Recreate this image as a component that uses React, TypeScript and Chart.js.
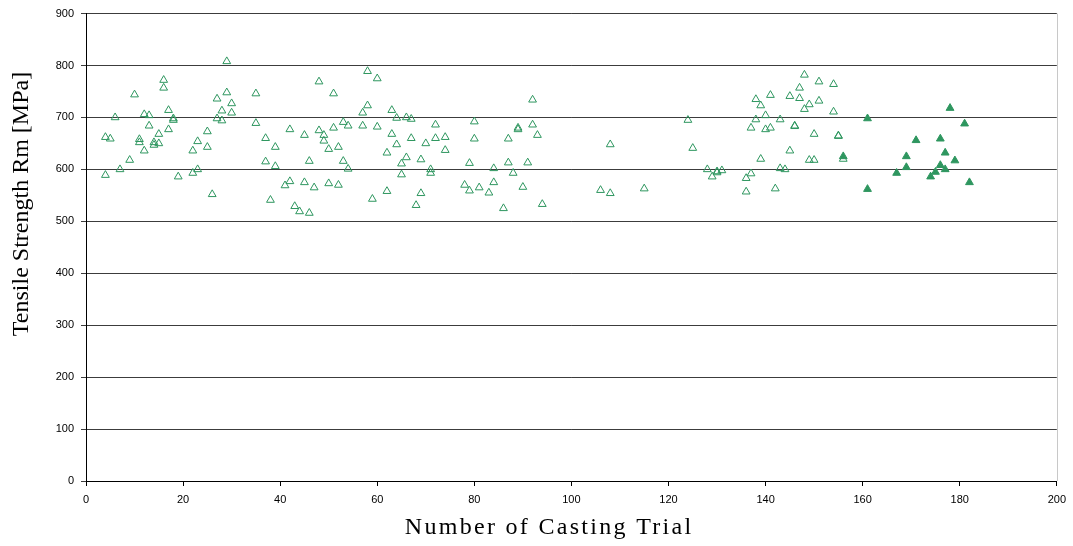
import React, { useEffect, useRef } from "react";
import { Chart, registerables } from "chart.js";

Chart.register(...registerables);

// Open triangles: casting trials (x = trial number, y = Rm in MPa)
const openTrials: number[] = [
  29, 16, 16, 10, 29, 35, 27, 30, 17, 28, 30, 12, 13, 6, 18, 18, 27, 28, 35, 13, 17, 25, 15, 4, 5, 23, 11, 11, 14, 14, 15, 37, 39, 25, 12, 22, 9, 37, 39, 7, 23, 4, 19, 22, 26, 38,
  58, 60, 48, 51, 58, 57, 63, 64, 66, 67, 53, 54, 51, 57, 60, 72, 42, 48, 49, 45, 63, 67, 72, 74, 49, 64, 70, 50, 52, 74, 62, 66, 69, 46, 53, 65, 79, 54, 71, 71, 65, 42, 41, 45, 47, 50, 52, 62, 69, 78, 79, 59, 68, 43, 44, 46,
  92, 80, 89, 89, 92, 93, 80, 87, 108, 87, 91, 84, 88, 81, 84, 83, 90, 86, 94, 106, 108, 115,
  124, 125, 128, 129, 130, 130, 131, 136, 137, 136, 142, 139, 143, 144, 145, 149, 150, 137, 140, 141, 138, 140, 143, 138, 139, 141, 145, 147, 147, 148, 151, 154, 149, 148, 151, 154, 146, 146, 150, 155, 155, 156,
];
const openStrength: number[] = [
  808, 772, 757, 744, 748, 746, 736, 727, 714, 713, 709, 706, 704, 700, 698, 695, 698, 694, 689, 684, 677, 673, 668, 662, 659, 654, 658, 652, 652, 647, 650, 660, 643, 643, 636, 636, 618, 615, 606, 600, 600, 589, 586, 593, 552, 541,
  789, 775, 769, 746, 723, 709, 714, 699, 700, 697, 691, 684, 680, 684, 682, 686, 677, 675, 666, 666, 668, 660, 660, 662, 655, 648, 650, 639, 643, 637, 632, 623, 619, 616, 616, 611, 612, 601, 600, 593, 590, 577, 569, 575, 565, 573, 570, 558, 554, 570, 559, 543, 531, 529, 519, 516,
  734, 692, 680, 677, 686, 666, 659, 659, 648, 613, 613, 602, 593, 565, 575, 555, 566, 525, 533, 560, 554, 563,
  695, 641, 600, 586, 596, 594, 598, 583, 592, 557, 563, 620, 602, 600, 636, 618, 618, 680, 677, 680, 696, 704, 696, 735, 723, 743, 741, 737, 757, 782, 769, 764, 725, 716, 732, 711, 684, 683, 668, 665, 664, 620,
];

// Filled triangles
const filledTrials: number[] = [156, 161, 161, 167, 169, 169, 171, 174, 175, 176, 176, 177, 177, 178, 179, 181, 182];
const filledStrength: number[] = [625, 698, 562, 593, 625, 604, 656, 586, 595, 659, 608, 632, 600, 718, 617, 688, 575];

const xTicks: number[] = [0, 20, 40, 60, 80, 100, 120, 140, 160, 180, 200];
const yTicks: number[] = [0, 100, 200, 300, 400, 500, 600, 700, 800, 900];

const xTitle = "Number of Casting Trial";
const yTitle = "Tensile Strength Rm [MPa]";

const GREEN = "rgb(46,150,95)";

export default function App() {
  const ref = useRef<HTMLCanvasElement | null>(null);

  useEffect(() => {
    if (!ref.current) return;
    const openData = openTrials.map((x, i) => ({ x, y: openStrength[i] }));
    const filledData = filledTrials.map((x, i) => ({ x, y: filledStrength[i] }));

    const titlePlugin = {
      id: "titles",
      afterDraw(chart: any) {
        const ctx = chart.ctx as CanvasRenderingContext2D;
        const area = chart.chartArea;
        ctx.save();
        // right border
        ctx.strokeStyle = "#c8c8c8";
        ctx.lineWidth = 1;
        ctx.beginPath();
        ctx.moveTo(Math.round(area.right) + 0.5, area.top);
        ctx.lineTo(Math.round(area.right) + 0.5, area.bottom);
        ctx.stroke();

        ctx.fillStyle = "#000";
        ctx.font = "24px 'Liberation Serif', 'Times New Roman', serif";
        ctx.textAlign = "center";
        ctx.textBaseline = "middle";
        // y title
        ctx.save();
        ctx.translate(22, 204);
        ctx.rotate(-Math.PI / 2);
        ctx.fillText(yTitle, 0, 0);
        ctx.restore();
        // x title with letter spacing
        const ls = 2.3;
        (ctx as any).letterSpacing = ls + "px";
        ctx.fillText(xTitle, 548 + ls / 2, 528);
        (ctx as any).letterSpacing = "0px";
        ctx.restore();
      },
    };

    const chart = new Chart(ref.current, {
      type: "scatter",
      data: {
        datasets: [
          {
            label: "open",
            data: openData,
            pointStyle: "triangle",
            pointRadius: 4.5,
            pointBorderWidth: 1,
            pointBorderColor: GREEN,
            pointBackgroundColor: "rgba(255,255,255,0)",
            showLine: false,
          },
          {
            label: "filled",
            data: filledData,
            pointStyle: "triangle",
            pointRadius: 4.5,
            pointBorderWidth: 1,
            pointBorderColor: GREEN,
            pointBackgroundColor: GREEN,
            showLine: false,
          },
        ],
      },
      options: {
        animation: false,
        responsive: false,
        maintainAspectRatio: false,
        layout: { padding: { top: 12, right: 16, left: 0, bottom: 0 } },
        plugins: { legend: { display: false }, tooltip: { enabled: false }, title: { display: false } },
        scales: {
          x: {
            type: "linear",
            min: 0,
            max: 200,
            afterBuildTicks: (scale: any) => {
              scale.ticks = xTicks.map((v) => ({ value: v }));
            },
            afterFit: (scale: any) => {
              scale.height = 65;
            },
            grid: { drawOnChartArea: false, drawTicks: true, tickLength: 5, color: "#000", lineWidth: 1 },
            border: { display: true, color: "#000", width: 1 },
            ticks: {
              color: "#000",
              padding: 7,
              maxRotation: 0,
              autoSkip: false,
              font: { family: "'Liberation Sans', Arial, sans-serif", size: 11 },
            },
          },
          y: {
            type: "linear",
            min: 0,
            max: 900,
            afterBuildTicks: (scale: any) => {
              scale.ticks = yTicks.map((v) => ({ value: v }));
            },
            afterFit: (scale: any) => {
              scale.width = 86;
            },
            grid: { drawOnChartArea: true, drawTicks: true, tickLength: 5, color: "#3c3c3c", lineWidth: 1 },
            border: { display: true, color: "#000", width: 1 },
            ticks: {
              color: "#000",
              padding: 7,
              autoSkip: false,
              font: { family: "'Liberation Sans', Arial, sans-serif", size: 11 },
            },
          },
        },
      },
      plugins: [titlePlugin],
    } as any);

    return () => chart.destroy();
  }, []);

  return (
    <div style={{ position: "fixed", left: 0, top: 0, width: 1073, height: 546, background: "#fff" }}>
      <canvas ref={ref} width={1073} height={546} style={{ width: 1073, height: 546, display: "block" }} />
    </div>
  );
}
